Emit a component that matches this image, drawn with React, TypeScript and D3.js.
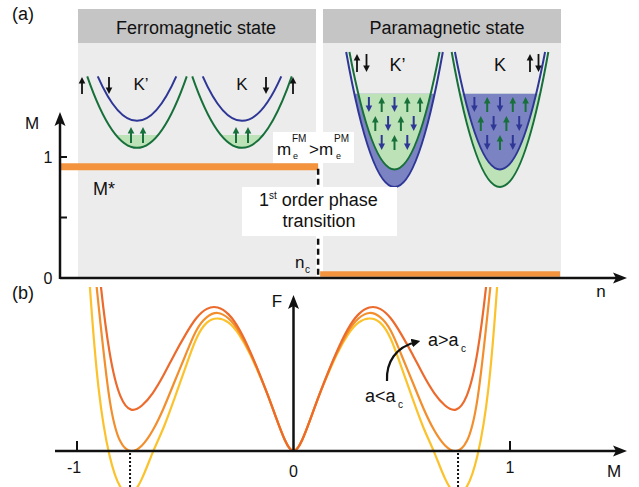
import React from 'react';
import * as d3 from 'd3';

const W = 639;
const H = 487;
const FONT = '"Liberation Sans", Arial, Helvetica, sans-serif';

// ---------- panel (a) data ----------
const mTicks = [0, 0.5, 1];
const mTickLabels = ['0', '', '1'];
const mStar = 0.92; // FM magnetisation
const nc = 0.478; // critical density
const nEnd = 0.926;

const stateTitles = ['Ferromagnetic state', 'Paramagnetic state'];
const valleyNames = ['K\u2019', 'K'];

// band bottoms (energy units), per valley [K', K]
const fmUpBottom = [0.29, 0.29];
const fmDownBottom = [0.49, 0.49];
const fmFermi = 0.385;
const fmTop = 0.82;
const fmMass = 2;

const pmUpBottom = [0.13, 0];
const pmDownBottom = [0, 0.13];
const pmFermi = 0.69;
const pmTop = 1;
const pmMass = 1;

// spins shown in the filled Fermi seas
const fmSeaSpins = ['u', 'u'];
const pmSeaSpins = [
  ['d', 'u', 'd', 'u', 'u'],
  ['u', 'd', 'u', 'd'],
  ['d', 'u', 'd'],
];

// ---------- panel (b) data: Landau free energy F(M) for three a ----------
const mGrid = [-0.97, -0.94, -0.9, -0.85, -0.8, -0.75, -0.7, -0.65, -0.6, -0.55, -0.5, -0.45, -0.4, -0.35, -0.3, -0.25, -0.2, -0.16, -0.12, -0.08, -0.04, 0,
  0.04, 0.08, 0.12, 0.16, 0.2, 0.25, 0.3, 0.35, 0.4, 0.45, 0.5, 0.55, 0.6, 0.65, 0.7, 0.75, 0.8, 0.85, 0.9, 0.94, 0.97];
const fAbove = [2.8, 2.1, 1.35, 0.72, 0.4, 0.3, 0.33, 0.42, 0.55, 0.7, 0.84, 0.96, 1.03, 1.04, 0.99, 0.88, 0.72, 0.57, 0.41, 0.24, 0.08, 0,
  0.08, 0.24, 0.41, 0.57, 0.72, 0.88, 0.99, 1.04, 1.03, 0.96, 0.84, 0.7, 0.55, 0.42, 0.33, 0.3, 0.4, 0.72, 1.35, 2.1, 2.8];
const fCritical = [2.4, 1.7, 1.05, 0.38, 0.07, 0, 0.04, 0.15, 0.31, 0.5, 0.69, 0.87, 0.97, 1.0, 0.96, 0.86, 0.71, 0.57, 0.41, 0.24, 0.08, 0,
  0.08, 0.24, 0.41, 0.57, 0.71, 0.86, 0.96, 1.0, 0.97, 0.87, 0.69, 0.5, 0.31, 0.15, 0.04, 0, 0.07, 0.38, 1.05, 1.7, 2.4];
const fBelow = [1.9, 1.18, 0.45, -0.03, -0.26, -0.31, -0.2, -0.01, 0.17, 0.38, 0.6, 0.81, 0.93, 0.96, 0.93, 0.84, 0.7, 0.56, 0.41, 0.24, 0.08, 0,
  0.08, 0.24, 0.41, 0.56, 0.7, 0.84, 0.93, 0.96, 0.93, 0.81, 0.6, 0.38, 0.17, -0.01, -0.2, -0.31, -0.26, -0.03, 0.45, 1.18, 1.9];
const mMinima = [-0.755, 0.76];
const bTicks = [-1, 0, 1];

const GREEN = '#17703a';
const BLUE = '#2e3795';
const GREEN_FILL = '#bde2b8';
const BLUE_FILL = '#7c83c3';
const BAR = '#f4933e';
const CURVE_COLORS = ['#ec6a2b', '#f38e2d', '#fcc22c'];

// ---------- helpers ----------
const Arrow = ({ x, y, len, up, color, sw = 2, hw = 3.3, hl = 6.5 }) => {
  const tip = up ? y : y + len;
  const tail = up ? y + len : y;
  const dir = up ? 1 : -1;
  const base = tip + dir * hl;
  return (
    <g>
      <line x1={x} y1={tail} x2={x} y2={base - dir * 1} stroke={color} strokeWidth={sw} />
      <path d={`M${x},${tip} L${x - hw},${base} L${x + hw},${base} Z`} fill={color} />
    </g>
  );
};

const parabola = (cx, hw, yTop, yV) =>
  `M${cx - hw},${yTop} Q${cx},${2 * yV - yTop} ${cx + hw},${yTop}`;

export default function App() {
  // panel (a) scales
  const nScale = d3.scaleLinear().domain([0, 1]).range([60, 600]);
  const mScale = d3.scaleLinear().domain([0, 1]).range([278, 157]);
  const eScale = d3.scaleLinear().domain([0, 1]).range([187, 52]);
  const massPx = 17.3;

  // panel (b) scales
  const xM = d3.scaleLinear().domain([-1, 1]).range([77, 510]);
  const yF = d3.scaleLinear().domain([0, 1]).range([451, 313]);
  const line = d3.line<number>()
    .x((_, i) => xM(mGrid[i]))
    .y((d) => yF(d))
    .curve(d3.curveNatural);

  const drawValley = (key, cx, upBottom, downBottom, fermi, top, mass, clipId) => {
    const yTop = eScale(top);
    const bands = [
      { spin: 'u', yV: eScale(upBottom), color: GREEN, fill: GREEN_FILL },
      { spin: 'd', yV: eScale(downBottom), color: BLUE, fill: BLUE_FILL },
    ].map((b) => ({ ...b, hw: Math.sqrt(massPx * mass * (b.yV - yTop)) }))
      .sort((a, b) => b.yV - a.yV);
    return (
      <g key={key}>
        {bands.map((b, i) => (
          <path key={'f' + i} d={parabola(cx, b.hw, yTop, b.yV) + 'Z'} fill={b.fill} clipPath={`url(#${clipId})`} />
        ))}
        {bands.map((b, i) => (
          <path key={'s' + i} d={parabola(cx, b.hw, yTop, b.yV)} fill="none" stroke={b.color} strokeWidth={2} />
        ))}
      </g>
    );
  };

  const fmCenters = [137, 242];
  const pmCenters = [394.5, 500];
  const fmY = eScale(fmFermi);
  const pmY = eScale(pmFermi);

  const t = { fontFamily: FONT, fill: '#111' };

  return (
    <svg width={W} height={H} style={{ position: 'absolute', left: 0, top: 0, background: '#fff' }}>
      <defs>
        <clipPath id="fmSea"><rect x={0} y={fmY} width={W} height={100} /></clipPath>
        <clipPath id="pmSea"><rect x={0} y={pmY} width={W} height={120} /></clipPath>
        <clipPath id="curves"><rect x={0} y={287} width={W} height={H - 287} /></clipPath>
        <marker id="head" viewBox="0 0 10 10" refX="5" refY="5" markerWidth="4" markerHeight="4" orient="auto">
          <path d="M0,0 L10,5 L0,10 Z" fill="#111" />
        </marker>
      </defs>

      {/* ---------------- panel (a) ---------------- */}
      <text x={12} y={20} fontSize={18} {...t}>(a)</text>

      {/* state boxes */}
      <rect x={78} y={43} width={238} height={235} fill="#ececec" />
      <rect x={323} y={43} width={238} height={235} fill="#ececec" />
      <rect x={78} y={9} width={238} height={34} fill="#c5c5c5" />
      <rect x={323} y={9} width={238} height={34} fill="#c5c5c5" />
      <text x={196} y={34} fontSize={18} textAnchor="middle" {...t}>{stateTitles[0]}</text>
      <text x={447} y={34} fontSize={18} textAnchor="middle" {...t}>{stateTitles[1]}</text>

      {/* FM valleys */}
      {fmCenters.map((cx, v) => drawValley('fm' + v, cx, fmUpBottom[v], fmDownBottom[v], fmFermi, fmTop, fmMass, 'fmSea'))}
      {fmCenters.map((cx, v) => fmSeaSpins.map((s, i) => (
        <Arrow key={`fma${v}${i}`} x={cx - 6 + i * 12} y={127} len={16} up={s === 'u'} color={GREEN} />
      )))}
      {/* black spin labels FM */}
      <Arrow x={fmCenters[0] - 55} y={77} len={17} up color="#111" sw={1.8} />
      <Arrow x={fmCenters[0] - 28} y={77} len={17} up={false} color="#111" sw={1.8} />
      <Arrow x={fmCenters[1] + 24} y={77} len={17} up={false} color="#111" sw={1.8} />
      <Arrow x={fmCenters[1] + 51} y={77} len={17} up color="#111" sw={1.8} />
      <text x={fmCenters[0] + 4} y={90} fontSize={17} textAnchor="middle" {...t}>{valleyNames[0]}</text>
      <text x={fmCenters[1]} y={90} fontSize={17} textAnchor="middle" {...t}>{valleyNames[1]}</text>

      {/* PM valleys */}
      {pmCenters.map((cx, v) => drawValley('pm' + v, cx, pmUpBottom[v], pmDownBottom[v], pmFermi, pmTop, pmMass, 'pmSea'))}
      {pmCenters.map((cx, v) => pmSeaSpins.map((row, r) => row.map((s, i) => (
        <Arrow key={`pma${v}${r}${i}`} x={cx - ((row.length - 1) * 12.8) / 2 + i * 12.8} y={97 + r * 19} len={15}
          up={s === 'u'} color={s === 'u' ? GREEN : BLUE} />
      ))))}
      <Arrow x={pmCenters[0] - 37.5} y={54} len={18} up color="#111" sw={1.8} />
      <Arrow x={pmCenters[0] - 28} y={54} len={18} up={false} color="#111" sw={1.8} />
      <Arrow x={pmCenters[1] + 30} y={54} len={18} up color="#111" sw={1.8} />
      <Arrow x={pmCenters[1] + 38.5} y={54} len={18} up={false} color="#111" sw={1.8} />
      <text x={pmCenters[0] + 3} y={71} fontSize={18} textAnchor="middle" {...t}>{valleyNames[0]}</text>
      <text x={pmCenters[1]} y={71} fontSize={18} textAnchor="middle" {...t}>{valleyNames[1]}</text>

      {/* magnetisation lines */}
      <line x1={nScale(0)} x2={nScale(nc)} y1={mScale(mStar)} y2={mScale(mStar)} stroke={BAR} strokeWidth={7} />
      <line x1={nScale(nc) + 2} x2={nScale(nEnd)} y1={mScale(0) - 4} y2={mScale(0) - 4} stroke={BAR} strokeWidth={5.5} />
      <line x1={nScale(nc)} x2={nScale(nc)} y1={mScale(mStar) + 2} y2={mScale(0)} stroke="#111" strokeWidth={2.5} strokeDasharray="6 4" />

      {/* m_e box */}
      <rect x={273} y={132} width={81} height={31} fill="#fff" />
      <text x={277} y={155} fontSize={17} {...t}>m</text>
      <text x={292} y={142} fontSize={10} {...t}>FM</text>
      <text x={293} y={159} fontSize={9} {...t}>e</text>
      <text x={309} y={155} fontSize={17} {...t}>&gt;m</text>
      <text x={334} y={142} fontSize={10} {...t}>PM</text>
      <text x={336} y={159} fontSize={9} {...t}>e</text>

      {/* transition box */}
      <rect x={242} y={187} width={155} height={49} fill="#fff" />
      <text x={259} y={206} fontSize={18} {...t}>1<tspan fontSize={10} dy={-7}>st</tspan><tspan dy={7}> order phase</tspan></text>
      <text x={319} y={227} fontSize={18} textAnchor="middle" {...t}>transition</text>

      <text x={93} y={195} fontSize={18} {...t}>M*</text>
      <text x={295} y={268} fontSize={17} {...t}>n</text>
      <text x={305} y={273} fontSize={10} {...t}>c</text>

      {/* axes (a) */}
      <line x1={60} x2={617} y1={mScale(0)} y2={mScale(0)} stroke="#111" strokeWidth={2.5} />
      <path d={`M627,${mScale(0)} L613,${mScale(0) - 5.5} L616,${mScale(0)} L613,${mScale(0) + 5.5} Z`} fill="#111" />
      <line x1={60} x2={60} y1={mScale(0) + 1} y2={123} stroke="#111" strokeWidth={2.5} />
      <path d={`M60,112 L54.5,126 L60,123 L65.5,126 Z`} fill="#111" />
      {mTicks.map((m, i) => (
        <g key={'mt' + i}>
          {m > 0 && <line x1={60} x2={67} y1={mScale(m)} y2={mScale(m)} stroke="#111" strokeWidth={2} />}
          {mTickLabels[i] && <text x={48} y={mScale(m) + 6} fontSize={16} textAnchor="middle" {...t}>{mTickLabels[i]}</text>}
        </g>
      ))}
      <text x={32} y={129} fontSize={17} textAnchor="middle" {...t}>M</text>
      <text x={601} y={297} fontSize={17} textAnchor="middle" {...t}>n</text>

      {/* ---------------- panel (b) ---------------- */}
      <text x={12} y={299} fontSize={18} {...t}>(b)</text>

      <g clipPath="url(#curves)">
        {[fAbove, fCritical, fBelow].map((f, i) => (
          <path key={'c' + i} d={line(f) || ''} fill="none" stroke={CURVE_COLORS[i]} strokeWidth={2.2} />
        )).reverse()}
      </g>

      {mMinima.map((m, i) => (
        <line key={'dm' + i} x1={xM(m)} x2={xM(m)} y1={yF(0) + 2} y2={H} stroke="#111" strokeWidth={2} strokeDasharray="2 2" />
      ))}

      <line x1={55} x2={617} y1={yF(0)} y2={yF(0)} stroke="#111" strokeWidth={2.5} />
      <path d={`M627,${yF(0)} L613,${yF(0) - 5.5} L616,${yF(0)} L613,${yF(0) + 5.5} Z`} fill="#111" />
      <line x1={xM(0)} x2={xM(0)} y1={yF(0)} y2={306} stroke="#111" strokeWidth={2.5} />
      <path d={`M${xM(0)},295 L${xM(0) - 5.5},309 L${xM(0)},306 L${xM(0) + 5.5},309 Z`} fill="#111" />
      {bTicks.map((m) => (
        <g key={'bt' + m}>
          {m !== 0 && <line x1={xM(m)} x2={xM(m)} y1={yF(0)} y2={yF(0) - 10} stroke="#111" strokeWidth={2} />}
          <text x={xM(m) - (m < 0 ? 3 : 0)} y={m === 0 ? 477 : 473} fontSize={16} textAnchor="middle" {...t}>{m < 0 ? '-1' : String(m)}</text>
        </g>
      ))}
      <text x={277} y={307} fontSize={17} textAnchor="middle" {...t}>F</text>
      <text x={614} y={477} fontSize={17} textAnchor="middle" {...t}>M</text>

      {/* a annotation */}
      <path d="M387,381 C386,362 396,347 416,342" fill="none" stroke="#111" strokeWidth={2.2} markerEnd="url(#head)" />
      <text x={428} y={346} fontSize={18} {...t}>a&gt;a</text>
      <text x={461} y={352} fontSize={10} {...t}>c</text>
      <text x={365} y={402} fontSize={18} {...t}>a&lt;a</text>
      <text x={398} y={408} fontSize={10} {...t}>c</text>
    </svg>
  );
}
